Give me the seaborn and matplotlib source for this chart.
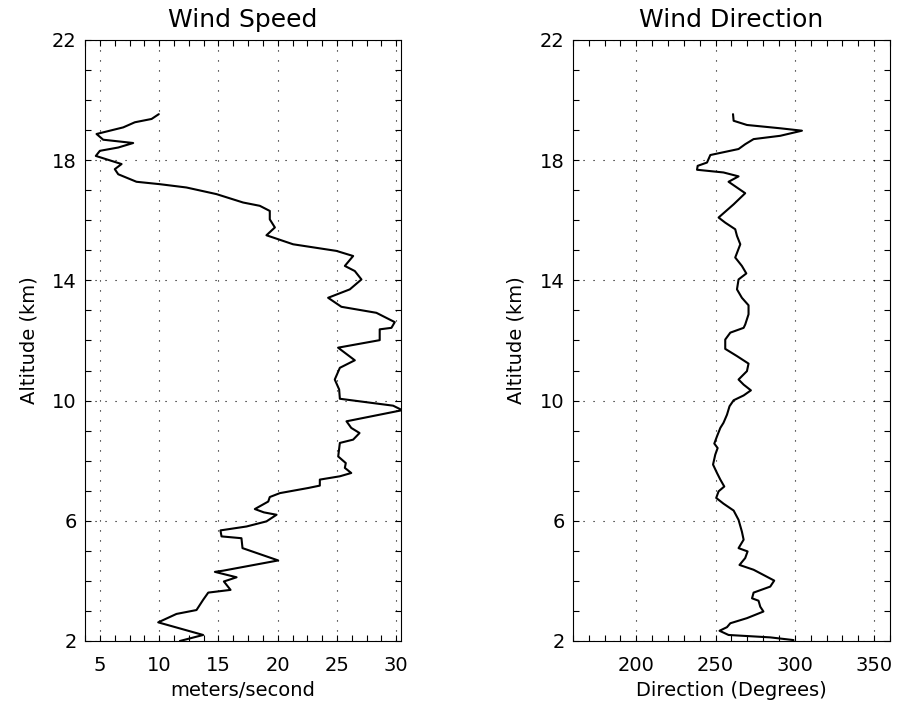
import numpy as np
import pandas as pd
import seaborn as sns
import matplotlib.pyplot as plt
from matplotlib.ticker import MultipleLocator

# wind speed profile (m/s) vs altitude (km), read top to bottom
speed = [9.97, 9.36, 7.95, 6.97, 4.72, 5.28, 7.81, 6.55, 5.0, 4.66, 6.83, 6.26, 6.55, 8.09,
         10.06, 12.3, 14.83, 17.08, 18.49, 19.33, 19.33, 19.76, 19.05, 21.3, 24.95, 26.36,
         25.66, 26.5, 27.06, 26.08, 24.25, 25.37, 28.32, 29.87, 29.59, 28.6, 28.6, 25.09,
         26.5, 25.24, 24.81, 25.18, 25.24, 29.73, 30.5, 25.8, 26.2, 26.9, 26.36, 25.24,
         25.1, 25.74, 25.66, 26.2, 25.24, 23.55, 23.55, 22.56, 20.18, 19.33, 19.2, 18.07,
         18.83, 19.9, 19.05, 17.37, 15.17, 15.26, 16.94, 17.03, 20.04, 15.4, 14.7, 16.53,
         15.46, 16.02, 14.14, 13.71, 13.15, 11.46, 9.92, 13.71, 11.75]
speed_alt = [19.53, 19.37, 19.26, 19.09, 18.87, 18.68, 18.57, 18.42, 18.31, 18.14, 17.87,
             17.70, 17.53, 17.28, 17.2, 17.09, 16.87, 16.59, 16.48, 16.31, 16.03, 15.76,
             15.5, 15.2, 14.98, 14.81, 14.48, 14.31, 14.03, 13.7, 13.42, 13.12, 12.92,
             12.61, 12.42, 12.37, 12.01, 11.76, 11.34, 11.09, 10.7, 10.37, 10.06, 9.83,
             9.68, 9.31, 9.09, 8.92, 8.7, 8.59, 8.14, 7.92, 7.76, 7.59, 7.48, 7.37, 7.17,
             7.09, 6.92, 6.79, 6.64, 6.39, 6.28, 6.2, 5.98, 5.81, 5.68, 5.48, 5.42, 5.09,
             4.68, 4.34, 4.3, 4.12, 3.98, 3.7, 3.61, 3.37, 3.03, 2.9, 2.62, 2.2, 2.0]

# wind direction profile (degrees) vs altitude (km)
direction = [261, 261.4, 269.8, 290.8, 304.5, 290.8, 274, 268.7, 264.5, 246.7, 244.6, 238.7,
             238.3, 255, 264.5, 258.2, 268.7, 261.4, 251.9, 256.1, 262.4, 263.5, 265.6,
             262.4, 266.6, 269.4, 264.5, 263.5, 266.6, 270.8, 270.8, 268.7, 267.7, 259.3,
             256.1, 256.1, 263.5, 270.8, 269.8, 264.5, 267.7, 272.3, 267.7, 261.4, 258.8,
             257.2, 255, 253, 250.9, 249.2, 251.3, 249.8, 248.4, 250.9, 253, 255.5, 251.9,
             250.4, 255, 261.4, 264.5, 266.6, 267.7, 264.5, 270.2, 268.7, 265.1, 274, 287,
             284.5, 274, 273, 277.1, 278.2, 280.2, 269.8, 259.3, 257.2, 252.5, 258.2, 284.5,
             299.2]
dir_alt = [19.53, 19.31, 19.17, 19.06, 18.98, 18.81, 18.7, 18.53, 18.37, 18.17, 17.92,
           17.81, 17.68, 17.59, 17.46, 17.28, 16.9, 16.53, 16.09, 15.92, 15.7, 15.48, 15.2,
           14.76, 14.48, 14.23, 14.03, 13.7, 13.42, 13.17, 12.87, 12.53, 12.42, 12.26,
           12.03, 11.72, 11.48, 11.23, 10.98, 10.7, 10.53, 10.34, 10.17, 10.01, 9.81, 9.53,
           9.26, 9.09, 8.81, 8.57, 8.42, 8.2, 7.87, 7.59, 7.37, 7.14, 6.98, 6.76, 6.57,
           6.34, 6.03, 5.64, 5.37, 5.09, 4.98, 4.76, 4.53, 4.37, 4.01, 3.81, 3.61, 3.42,
           3.34, 3.14, 2.98, 2.76, 2.59, 2.46, 2.34, 2.2, 2.12, 2.03]

alt_ticks = [2, 6, 10, 14, 18, 22]
speed_ticks = [5, 10, 15, 20, 25, 30]
dir_ticks = [200, 250, 300, 350]

sns.set_style('ticks')
plt.rcParams['font.family'] = ['DejaVu Sans']
plt.rcParams['axes.linewidth'] = 0.8
plt.rcParams['text.color'] = 'black'
plt.rcParams['axes.labelcolor'] = 'black'
plt.rcParams['xtick.color'] = 'black'
plt.rcParams['ytick.color'] = 'black'

fig = plt.figure(figsize=(8.98, 7.13), dpi=100)
ax1 = fig.add_axes([0.0947, 0.101, 0.3519, 0.843])
ax2 = fig.add_axes([0.638, 0.101, 0.353, 0.843])

df_s = pd.DataFrame({'speed': speed, 'alt': speed_alt})
df_d = pd.DataFrame({'dir': direction, 'alt': dir_alt})

sns.lineplot(data=df_s, x='speed', y='alt', sort=False, estimator=None,
             color='black', linewidth=1.5, ax=ax1)
sns.lineplot(data=df_d, x='dir', y='alt', sort=False, estimator=None,
             color='black', linewidth=1.5, ax=ax2)

panels = [
    (ax1, 'Wind Speed', 'meters/second', (3.75, 30.4), speed_ticks, 1.25),
    (ax2, 'Wind Direction', 'Direction (Degrees)', (160, 360), dir_ticks, 10),
]
for ax, title, xlab, xlim, xt, xminor in panels:
    ax.set_xlim(*xlim)
    ax.set_ylim(2, 22)
    ax.set_xticks(xt)
    ax.set_yticks(alt_ticks)
    ax.xaxis.set_minor_locator(MultipleLocator(xminor))
    ax.yaxis.set_minor_locator(MultipleLocator(1))
    ax.tick_params(which='both', direction='in', top=True, right=True,
                   length=4.5, width=0.8, color='black', labelcolor='black')
    ax.tick_params(axis='x', labelsize=14, pad=11)
    ax.tick_params(axis='y', labelsize=14, pad=6)
    ax.grid(True, which='major', color='black', linewidth=0.8,
            linestyle=(0, (1, 8)))
    ax.set_title(title, fontsize=18, pad=9, color='black')
    ax.set_xlabel(xlab, fontsize=14, labelpad=4, color='black')
    ax.set_ylabel('Altitude (km)', fontsize=14, labelpad=10, color='black')
    for s in ax.spines.values():
        s.set_color('black')

fig.savefig('out.png', dpi=100)
